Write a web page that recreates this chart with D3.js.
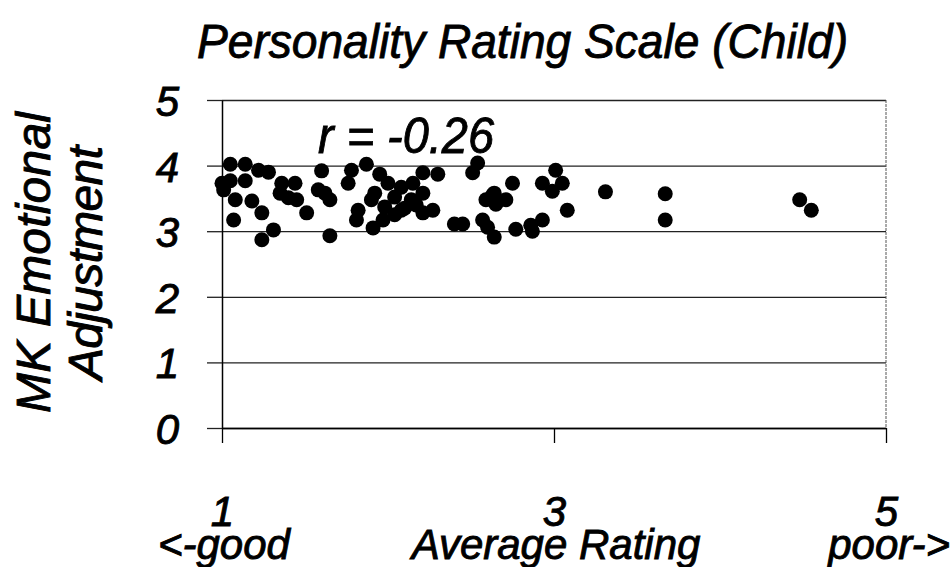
<!DOCTYPE html>
<html>
<head>
<meta charset="utf-8">
<script src="https://cdn.jsdelivr.net/npm/d3@7"></script>
<style>
  body { margin: 0; background: #fff; }
  text { font-family: "Liberation Sans", Arial, sans-serif; font-style: italic; fill: #000; stroke: #000; stroke-width: 0.9px; }
</style>
</head>
<body>
<script>
// average rating (x) and MK emotional adjustment (y)
var ratings = [1.05, 1.14, 1.22, 1.28, 1.00, 1.01, 1.05, 1.14, 1.36, 1.44,
               1.35, 1.40, 1.45, 1.08, 1.18, 1.24, 1.07, 1.31, 1.24, 1.51,
               1.60, 1.78, 1.76, 1.87, 1.95, 1.58, 1.62, 1.65, 1.82, 1.81,
               1.65, 1.91, 1.92, 2.00, 2.04, 1.98, 1.97, 2.04, 2.08, 1.90,
               2.54, 2.51, 2.30, 2.21, 2.08, 2.15, 2.21, 2.14, 2.10, 2.17,
               2.21, 2.27, 2.40, 2.45, 2.59, 2.63, 2.57, 2.60, 2.64, 3.01,
               2.93, 3.05, 2.99, 3.08, 2.75, 2.64, 2.71, 2.65, 2.77, 2.86,
               2.87, 2.93, 3.31, 3.67, 3.67, 4.48, 4.55];
var adjustment = [4.02, 4.02, 3.93, 3.90, 3.73, 3.63, 3.77, 3.77, 3.73, 3.73,
                  3.58, 3.51, 3.48, 3.48, 3.46, 3.28, 3.17, 3.02, 2.87, 3.28,
                  3.92, 3.93, 3.73, 4.02, 3.87, 3.63, 3.58, 3.48, 3.32, 3.17,
                  2.93, 3.05, 3.58, 3.73, 3.52, 3.37, 3.17, 3.25, 3.32, 3.48,
                  4.04, 3.89, 3.87, 3.89, 3.67, 3.73, 3.58, 3.48, 3.35, 3.40,
                  3.28, 3.32, 3.11, 3.11, 3.48, 3.55, 3.17, 3.06, 2.91, 3.93,
                  3.73, 3.73, 3.61, 3.32, 3.73, 3.58, 3.48, 3.41, 3.03, 3.09,
                  3.00, 3.17, 3.60, 3.57, 3.17, 3.48, 3.32];
var yTicks = [0, 1, 2, 3, 4, 5];
var xTicks = [1, 3, 5];

var w = 950, h = 567;
var padL = 222, padR = 886, padT = 100, padB = 428;

var svg = d3.select("body").append("svg")
    .attr("width", w)
    .attr("height", h);

var x = d3.scaleLinear().domain([1, 5]).range([padL, padR]);
var y = d3.scaleLinear().domain([0, 5]).range([padB, padT]);

// horizontal grid lines
svg.append("g")
    .attr("transform", "translate(" + padL + ",0)")
    .call(d3.axisLeft(y).tickValues(yTicks).tickSize(-(padR - padL)).tickFormat(""))
    .call(function(g) { g.select(".domain").remove(); })
    .selectAll("line")
    .attr("stroke", "#222")
    .attr("stroke-width", 1.3);

// right border
svg.append("line")
    .attr("x1", padR).attr("x2", padR)
    .attr("y1", y(5)).attr("y2", y(0))
    .attr("stroke", "#555")
    .attr("stroke-width", 1)
    .attr("stroke-dasharray", "3,1");

// y axis
var yAxis = svg.append("g")
    .attr("transform", "translate(" + padL + ",0)")
    .call(d3.axisLeft(y).tickValues(yTicks).tickSize(15).tickSizeOuter(0).tickFormat(d3.format("d")));
yAxis.select(".domain").attr("stroke", "#000").attr("stroke-width", 1.5);
yAxis.selectAll("line").attr("stroke", "#222").attr("stroke-width", 1.3);
yAxis.selectAll("text")
    .attr("x", -43)
    .attr("dy", "0.37em")
    .attr("text-anchor", "end")
    .attr("font-size", "42px");

// x axis
var xAxis = svg.append("g")
    .attr("transform", "translate(0," + padB + ")")
    .call(d3.axisBottom(x).tickValues(xTicks).tickSize(15).tickSizeOuter(0).tickFormat(d3.format("d")));
xAxis.select(".domain").attr("stroke", "#000").attr("stroke-width", 1.5);
xAxis.selectAll("line").attr("stroke", "#000").attr("stroke-width", 1.3);
xAxis.selectAll("text")
    .attr("y", 98)
    .attr("dy", 0)
    .attr("font-size", "42px");

// points
svg.selectAll("circle.pt")
    .data(ratings)
    .enter()
    .append("circle")
    .attr("class", "pt")
    .attr("cx", function(d) { return x(d); })
    .attr("cy", function(d, i) { return y(adjustment[i]); })
    .attr("r", 7.5)
    .attr("fill", "#000");

// title
svg.append("text")
    .attr("x", 197)
    .attr("y", 58)
    .attr("font-size", "49px")
    .attr("textLength", 651)
    .attr("lengthAdjust", "spacingAndGlyphs")
    .text("Personality Rating Scale (Child)");

// correlation
svg.append("text")
    .attr("x", 318)
    .attr("y", 153)
    .attr("font-size", "50px")
    .attr("textLength", 176)
    .attr("lengthAdjust", "spacingAndGlyphs")
    .text("r = -0.26");

// y title
var yt = svg.append("text")
    .attr("transform", "translate(0,263) rotate(-90)")
    .attr("font-size", "48px")
    .attr("lengthAdjust", "spacingAndGlyphs");
yt.append("tspan").attr("x", -150).attr("y", 50).attr("textLength", 301).text("MK Emotional");
yt.append("tspan").attr("x", -117).attr("y", 102).attr("textLength", 234).text("Adjustment");

// x labels
svg.append("text")
    .attr("x", 158).attr("y", 559)
    .attr("font-size", "42px")
    .text("<-good");
svg.append("text")
    .attr("x", 556).attr("y", 559)
    .attr("text-anchor", "middle")
    .attr("font-size", "42px")
    .text("Average Rating");
svg.append("text")
    .attr("x", 950).attr("y", 559)
    .attr("text-anchor", "end")
    .attr("font-size", "42px")
    .text("poor->");
</script>
</body>
</html>
